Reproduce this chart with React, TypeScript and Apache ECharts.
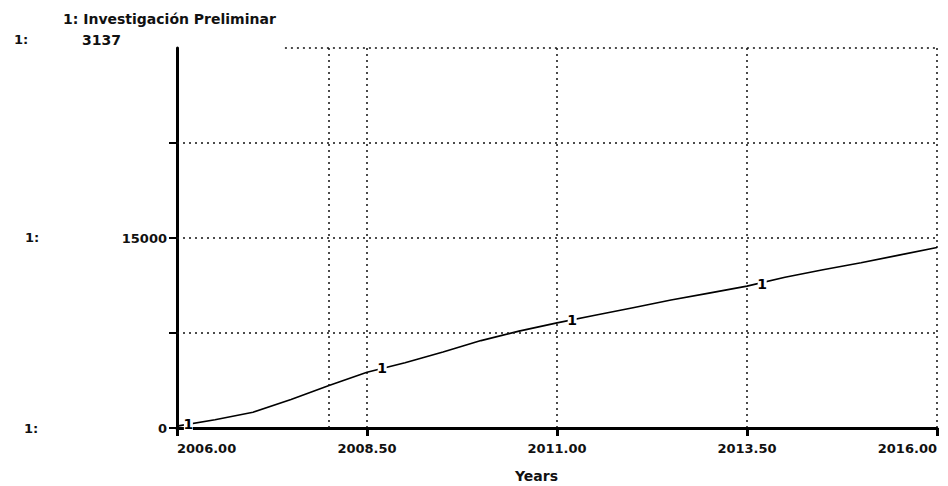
import { useEffect, useRef } from "react";
import * as echarts from "echarts";

// Time axis (years) and simulated values of "Investigación Preliminar"
const years = [2006, 2006.5, 2007, 2007.5, 2008, 2008.5, 2009, 2009.5, 2010, 2010.5, 2011, 2011.5, 2012, 2012.5, 2013, 2013.5, 2014, 2014.5, 2015, 2015.5, 2016];
const values = [150, 650, 1250, 2250, 3350, 4400, 5150, 6000, 6900, 7650, 8300, 8900, 9500, 10100, 10650, 11200, 11900, 12500, 13050, 13650, 14250];

// Positions of the "1" series markers along the curve
const markerYears = [2006.15, 2008.7, 2011.2, 2013.7];
const markerValues = [320, 4700, 8540, 11400];

// Grid references
const xMin = 2006;
const xMax = 2016;
const xInterval = 2.5;
const yMin = 0;
const yMax = 30000;
const yInterval = 7500;
const yLabelled = [0, 15000];
const hGridValues = [7500, 15000, 22500];
const vExtraGrid = [2008];
const topGridStart = 2007.42;

const seriesName = "1: Investigación Preliminar";
const topValueLabel = "3137";
const xAxisTitle = "Years";

const FONT = "DejaVu Sans";

export default function App() {
  const ref = useRef<HTMLDivElement>(null);

  useEffect(() => {
    if (!ref.current) return;
    const chart = echarts.init(ref.current, null, { renderer: "svg" });
    const dotted = { color: "#111", width: 1.5, type: [2, 4] as any };
    const textStyle = { fontFamily: FONT, fontSize: 13, fontWeight: "bold", fill: "#111" };

    chart.setOption({
      animation: false,
      backgroundColor: "#fff",
      grid: { left: 177, right: 11, top: 48, bottom: 58, containLabel: false },
      xAxis: {
        type: "value",
        min: xMin,
        max: xMax,
        interval: xInterval,
        axisLine: { show: true, lineStyle: { color: "#000", width: 3 } },
        axisTick: { show: true, length: 8, lineStyle: { color: "#000", width: 3 } },
        axisLabel: {
          formatter: (v: number) => v.toFixed(2),
          fontFamily: FONT,
          fontSize: 13,
          fontWeight: "bold",
          color: "#111",
          margin: 14,
          alignMinLabel: "left",
          alignMaxLabel: "right",
        },
        splitLine: { show: true, lineStyle: dotted },
      },
      yAxis: {
        type: "value",
        min: yMin,
        max: yMax,
        interval: yInterval,
        axisLine: { show: true, lineStyle: { color: "#000", width: 3 } },
        axisTick: { show: true, length: 8, lineStyle: { color: "#000", width: 2 } },
        axisLabel: {
          formatter: (v: number) => (yLabelled.includes(v) ? String(v) : ""),
          fontFamily: FONT,
          fontSize: 13,
          fontWeight: "bold",
          color: "#111",
          margin: 10,
          showMaxLabel: false,
        },
        splitLine: { show: false },
      },
      series: [
        {
          type: "line",
          data: years.map((y, i) => [y, values[i]]),
          showSymbol: false,
          lineStyle: { color: "#000", width: 1.6 },
          z: 3,
          markLine: {
            silent: true,
            symbol: "none",
            label: { show: false },
            lineStyle: dotted,
            data: [
              ...vExtraGrid.map((x) => ({ xAxis: x })),
              ...hGridValues.map((v) => ({ yAxis: v })),
              [{ coord: [topGridStart, yMax] }, { coord: [xMax, yMax] }],
            ],
          },
        },
        {
          type: "scatter",
          data: markerYears.map((y, i) => [y, markerValues[i]]),
          symbol: "rect",
          symbolSize: [9, 14],
          itemStyle: { color: "#fff", opacity: 1 },
          z: 5,
          label: {
            show: true,
            position: "inside",
            formatter: "1",
            fontFamily: FONT,
            fontSize: 14,
            fontWeight: "bold",
            color: "#000",
          },
        },
      ],
      graphic: [
        { type: "text", left: 63, top: 12, style: { ...textStyle, fontSize: 14, text: seriesName } },
        { type: "text", left: 14, top: 33, style: { ...textStyle, text: "1:" } },
        { type: "text", left: 82, top: 33, style: { ...textStyle, fontSize: 14, text: topValueLabel } },
        { type: "text", left: 25, top: 231, style: { ...textStyle, text: "1:" } },
        { type: "text", left: 24, top: 422, style: { ...textStyle, text: "1:" } },
        { type: "text", left: 515, top: 469, style: { ...textStyle, fontSize: 14, text: xAxisTitle } },
      ],
    });

    return () => chart.dispose();
  }, []);

  return (
    <div
      ref={ref}
      style={{ position: "fixed", left: 0, top: 0, width: 948, height: 486, background: "#fff" }}
    />
  );
}
